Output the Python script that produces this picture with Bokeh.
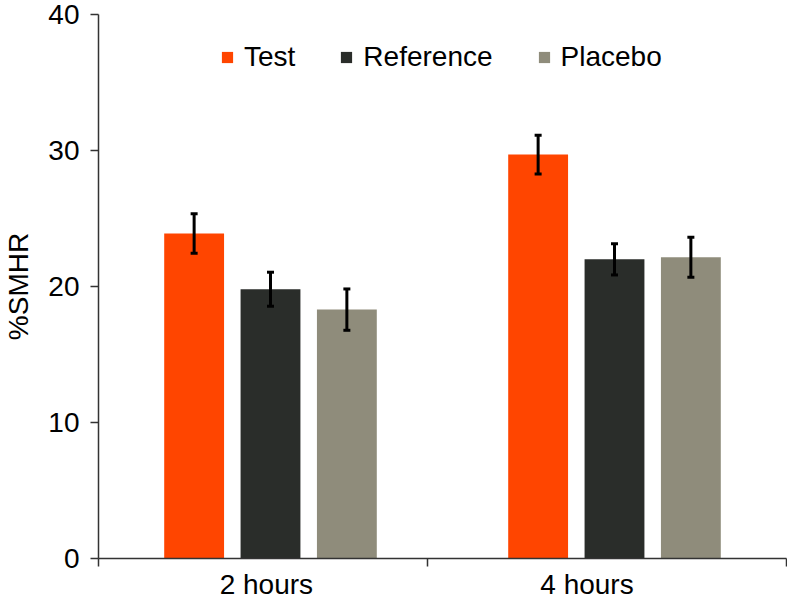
from bokeh.plotting import figure
from bokeh.models import Range1d, FixedTicker, Whisker, TeeHead, ColumnDataSource, Legend, LegendItem
from bokeh.embed import file_html
from bokeh.resources import INLINE

categories = ["2 hours", "4 hours"]
series = ["Test", "Reference", "Placebo"]
test_vals = [23.9, 29.7]
test_err = [1.45, 1.42]
ref_vals = [19.8, 22.0]
ref_err = [1.25, 1.15]
plac_vals = [18.3, 22.15]
plac_err = [1.52, 1.47]
y_ticks = [0, 10, 20, 30, 40]

# layout (positions in category units)
cat_pos = [1, 2]
label_pos = [0.988, 1.92]
sep_ticks = [0.5, 1.455, 2.5]
colors = ["#FF4500", "#2A2D2A", "#8F8C7B"]
offsets = [-0.222, 0.0, 0.222]
bar_w = 0.174
FONT = "Liberation Sans"
FS = "28px"

p = figure(width=787, height=602, output_backend="svg", toolbar_location=None,
           x_range=Range1d(0.5, 2.5), y_range=Range1d(0, 40),
           min_border_left=97, min_border_right=1, min_border_top=14, min_border_bottom=20)
p.outline_line_color = None
p.xgrid.visible = False
p.ygrid.visible = False

items = []
for vals, errs, name, col, off in zip([test_vals, ref_vals, plac_vals],
                                      [test_err, ref_err, plac_err],
                                      series, colors, offsets):
    xs = [c + off for c in cat_pos]
    src = ColumnDataSource(dict(x=xs, top=vals,
                                upper=[v + e for v, e in zip(vals, errs)],
                                lower=[v - e for v, e in zip(vals, errs)]))
    r = p.vbar(x="x", top="top", bottom=0, width=bar_w, source=src,
               fill_color=col, line_color=None)
    items.append(LegendItem(label=name, renderers=[r]))
    w = Whisker(base="x", upper="upper", lower="lower", source=src, level="overlay",
                line_color="black", line_width=3,
                upper_head=TeeHead(size=7, line_width=3, line_color="black"),
                lower_head=TeeHead(size=7, line_width=3, line_color="black"))
    p.add_layout(w)

# axes
p.xaxis.ticker = FixedTicker(ticks=label_pos, minor_ticks=sep_ticks)
p.xaxis.major_label_overrides = {c: lab for c, lab in zip(label_pos, categories)}
p.xaxis.major_tick_out = 0
p.xaxis.major_tick_in = 0
p.xaxis.minor_tick_out = 8
p.xaxis.minor_tick_in = 0
p.xaxis.major_label_standoff = 2
p.xaxis.axis_label_standoff = 0

p.yaxis.ticker = FixedTicker(ticks=y_ticks, minor_ticks=[])
p.yaxis.major_tick_out = 8
p.yaxis.major_tick_in = 0
p.yaxis.major_label_standoff = 11
p.yaxis.axis_label = "%SMHR"
p.yaxis.axis_label_standoff = 11

for ax in [p.xaxis[0], p.yaxis[0]]:
    ax.axis_line_color = "#333333"
    ax.axis_line_width = 1.5
    ax.major_tick_line_color = "#333333"
    ax.major_tick_line_width = 1.5
    ax.minor_tick_line_color = "#333333"
    ax.minor_tick_line_width = 1.5
    ax.major_label_text_font = FONT
    ax.major_label_text_font_size = FS
    ax.major_label_text_color = "black"
    ax.axis_label_text_font = FONT
    ax.axis_label_text_font_size = FS
    ax.axis_label_text_font_style = "normal"
    ax.axis_label_text_color = "black"

legend = Legend(items=items, orientation="horizontal", location=(122, 485),
                glyph_width=14, glyph_height=14, label_standoff=10, spacing=44,
                padding=0, margin=0, border_line_color=None, background_fill_alpha=0,
                label_text_font=FONT, label_text_font_size=FS, label_text_color="black")
p.add_layout(legend)

open("out.html", "w").write(file_html(p, INLINE))
